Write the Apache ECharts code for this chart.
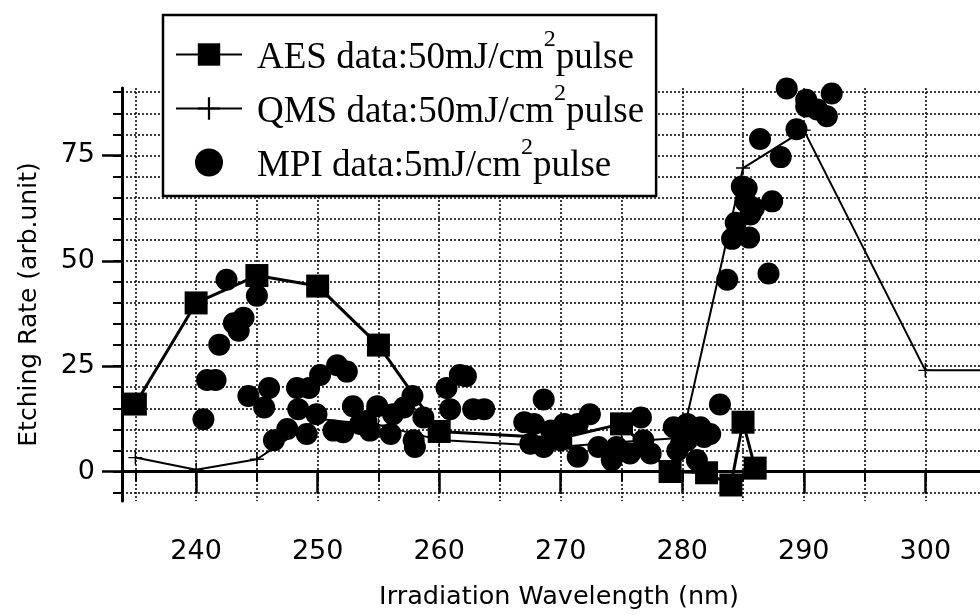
<!DOCTYPE html>
<html>
<head>
<meta charset="utf-8">
<script src="https://cdn.jsdelivr.net/npm/echarts@6/dist/echarts.min.js"></script>
<style>html,body{margin:0;padding:0;background:#fff;}#c{width:980px;height:615px;}</style>
</head>
<body>
<div id="c"></div>
<script>
// ---- data ----
const aesX = [235, 240, 245, 250, 255, 260, 270, 275, 279, 282, 284, 285, 286];
const aesY = [16, 40, 46.5, 44, 30, 9.5, 7.9, 11.3, 0, -0.3, -3.2, 11.7, 0.8];

const qmsX = [235, 240, 245, 250, 255, 260, 270, 275, 280, 285, 290, 300, 310];
const qmsY = [3.3, 0.4, 2.9, 12.5, 11, 7.5, 5.9, 7, 8, 72, 81, 24, 24];

const mpiX = [240.6, 240.9, 241.6, 241.9, 242.5, 243.1, 243.5, 243.9, 244.3, 245.0,
  245.6, 246.0, 246.4, 247.5, 248.3, 249.3, 248.4, 249.1, 249.9, 250.2,
  251.3, 251.6, 252.1, 252.4, 252.9, 253.5, 254.0, 254.3, 254.9, 256.0,
  256.2, 257.1, 257.8, 258.0, 258.7, 257.9, 260.6, 261.7, 262.2, 260.9,
  262.8, 263.7, 267.0, 267.5, 268.6, 267.8, 269.2, 270.3, 271.4, 268.6,
  270.0, 271.4, 272.4, 273.1, 274.2, 274.6, 275.7, 276.6, 276.8, 277.4,
  279.3, 280.4, 281.5, 279.6, 281.2, 281.8, 280.4, 282.3, 283.1, 279.9,
  283.7, 284.1, 285.5, 284.4, 285.6, 285.2, 285.3, 287.4, 287.1, 288.1,
  286.4, 288.6, 289.4, 290.2, 291.1, 291.4, 292.3, 291.9, 290.2, 285.9, 284.9];
const mpiY = [12.4, 21.7, 21.7, 30.1, 45.5, 35.2, 33.4, 36.5, 17.9, 41.7,
  15.2, 19.8, 7.4, 10.1, 19.8, 19.8, 14.8, 8.9, 13.6, 22.9,
  9.7, 25.2, 9.3, 23.7, 15.5, 11.3, 12.0, 9.7, 15.5, 8.9,
  13.6, 15.2, 17.9, 5.8, 12.8, 7.4, 19.8, 22.9, 22.6, 14.8,
  14.8, 14.8, 11.7, 6.6, 17.1, 11.3, 9.7, 11.3, 11.3, 5.8,
  7.4, 3.5, 13.6, 5.8, 2.7, 5.8, 4.3, 12.8, 7.4, 4.3,
  10.5, 7.4, 10.5, 5.0, 2.7, 8.2, 11.3, 8.9, 15.9, 6.6,
  45.5, 55.2, 55.5, 59.0, 61.0, 64.1, 67.2, 64.1, 47.0, 74.6,
  78.9, 90.9, 81.2, 86.6, 85.9, 92.8, 89.7, 84.3, 88.2, 62.5, 67.6];

const xMinorTicks = [235, 240, 245, 250, 255, 260, 265, 270, 275, 280, 285, 290, 295, 300];
const xMajorTicks = [240, 250, 260, 270, 280, 290, 300];
const yMinorTicks = [-5, 0, 5, 10, 15, 20, 25, 30, 35, 40, 45, 50, 55, 60, 65, 70, 75, 80, 85, 90];
const yMajorTicks = [0, 25, 50, 75];

const seriesNames = ['AES', 'QMS', 'MPI'];
const legendText = {
  AES: ['AES data:50mJ/cm', '2', 'pulse'],
  QMS: ['QMS data:50mJ/cm', '2', 'pulse'],
  MPI: ['MPI data:5mJ/cm', '2', 'pulse']
};
const xTitle = 'Irradiation Wavelength (nm)';
const yTitle = 'Etching Rate (arb.unit)';

// ---- chart ----
const zip = (xs, ys) => xs.map((x, i) => [x, ys[i]]);
const SANS = 'DejaVu Sans';
const SERIF = 'Liberation Serif';
const plusPath = 'path://M9,0h2v9h9v2h-9v9h-2v-9h-9v-2h9z';
const gridDash = { type: [2, 2], color: '#000', width: 1.5 };

const chart = echarts.init(document.getElementById('c'), null, { renderer: 'canvas' });
chart.setOption({
  animation: false,
  backgroundColor: '#fff',
  grid: { left: 122, right: 0, top: 88, bottom: 107, containLabel: false },
  xAxis: [{
    type: 'value', min: 233.9, max: 304.5, position: 'bottom',
    axisLine: { show: true, lineStyle: { color: '#000', width: 3 } },
    axisTick: { show: true, customValues: xMinorTicks, length: 10, lineStyle: { color: '#000', width: 2 } },
    axisLabel: { show: false },
    splitLine: { show: true, lineStyle: gridDash }
  }, {
    type: 'value', min: 233.9, max: 304.5, position: 'bottom', gridIndex: 0,
    axisLine: { show: false },
    axisTick: { show: true, customValues: xMajorTicks, length: 22, lineStyle: { color: '#000', width: 2.5 } },
    axisLabel: { show: true, customValues: xMajorTicks, margin: 37, fontFamily: SANS, fontSize: 27, color: '#000' },
    splitLine: { show: false },
    name: xTitle, nameLocation: 'middle', nameGap: 83,
    nameTextStyle: { fontFamily: SANS, fontSize: 25.5, color: '#000', padding: [0, 0, 0, 16] }
  }],
  yAxis: [{
    type: 'value', min: -7, max: 91,
    axisLine: { show: true, lineStyle: { color: '#000', width: 3 } },
    axisTick: { show: true, customValues: yMinorTicks, length: 9, lineStyle: { color: '#000', width: 2 } },
    axisLabel: { show: false },
    splitLine: { show: true, lineStyle: gridDash }
  }, {
    type: 'value', min: -7, max: 91, position: 'left', gridIndex: 0,
    axisLine: { show: false },
    axisTick: { show: true, customValues: yMajorTicks, length: 20, lineStyle: { color: '#000', width: 2.5 } },
    axisLabel: { show: true, customValues: yMajorTicks, margin: 27, fontFamily: SANS, fontSize: 27, color: '#000' },
    splitLine: { show: false },
    name: yTitle, nameLocation: 'middle', nameGap: 80, nameRotate: 90,
    nameTextStyle: { fontFamily: SANS, fontSize: 25, color: '#000', padding: [0, 0, 0, -20] }
  }],
  legend: {
    orient: 'vertical', left: 163, top: 15,
    padding: [13, 12, 11, 12],
    itemWidth: 66, itemHeight: 28, itemGap: 5,
    backgroundColor: '#fff', borderColor: '#000', borderWidth: 2.5, borderRadius: 0,
    data: seriesNames,
    formatter: function (name) {
      const t = legendText[name];
      return '{a|' + t[0] + '}{s|' + t[1] + '}{b|' + t[2] + '}';
    },
    textStyle: {
      fontFamily: SERIF, fontSize: 37, color: '#000',
      rich: {
        a: { fontFamily: SERIF, fontSize: 37, color: '#000', padding: [12, 0, 4, 10] },
        b: { fontFamily: SERIF, fontSize: 37, color: '#000', padding: [12, 0, 4, 0] },
        s: { fontFamily: SERIF, fontSize: 24, color: '#000', verticalAlign: 'top' }
      }
    }
  },
  series: [{
    name: 'AES', type: 'line', xAxisIndex: 0, yAxisIndex: 0,
    data: zip(aesX, aesY),
    symbol: 'rect', symbolSize: 23, showSymbol: true,
    lineStyle: { color: '#000', width: 3 },
    itemStyle: { color: '#000' }, z: 4
  }, {
    name: 'QMS', type: 'line', xAxisIndex: 0, yAxisIndex: 0,
    data: zip(qmsX, qmsY),
    symbol: plusPath, symbolSize: 14, showSymbol: true,
    lineStyle: { color: '#000', width: 2 },
    itemStyle: { color: '#000' }, z: 3
  }, {
    name: 'MPI', type: 'scatter', xAxisIndex: 0, yAxisIndex: 0,
    data: zip(mpiX, mpiY),
    symbol: 'circle', symbolSize: 22,
    itemStyle: { color: '#000', opacity: 1 }, z: 3
  }]
});
</script>
</body>
</html>
